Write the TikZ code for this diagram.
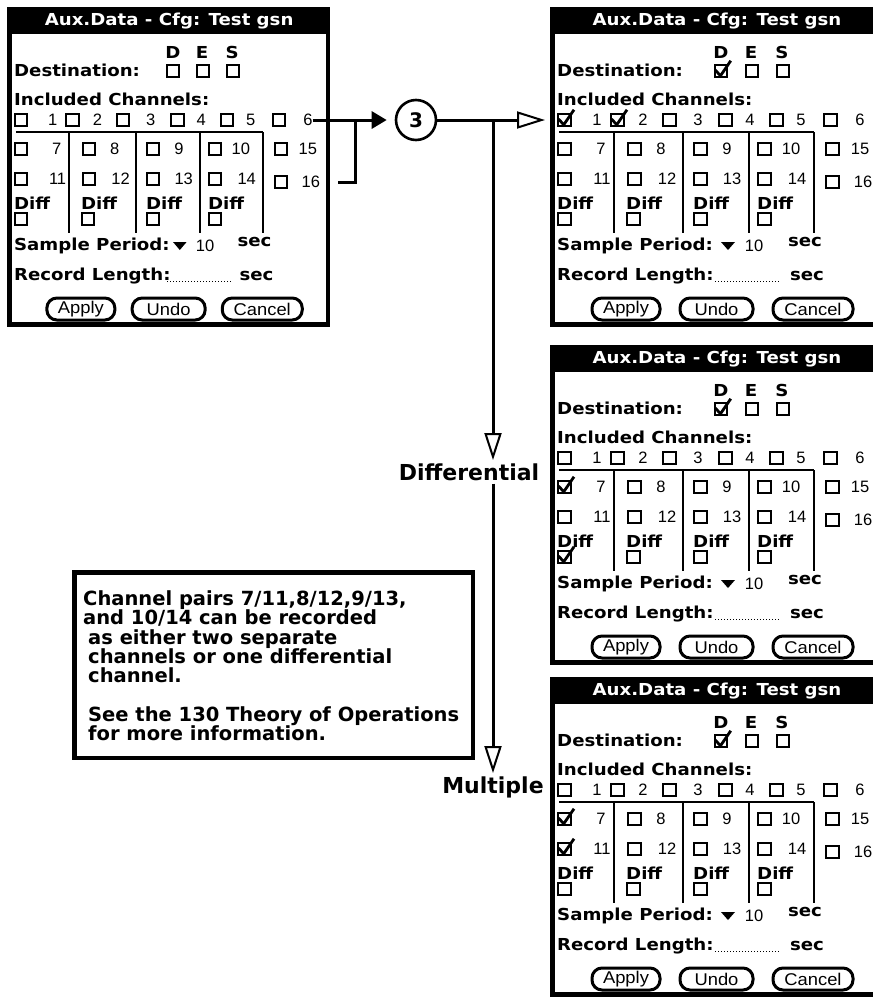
\documentclass[tikz,border=0pt]{standalone}
\usepackage{fontspec}
\usetikzlibrary{arrows.meta,calc}
\newfontfamily\pbfont{DejaVu Sans}[FakeStretch=1.1]
\newfontfamily\prfont{Liberation Sans}[FakeStretch=1.08]
\newfontfamily\pdfont{Liberation Sans}
\newfontfamily\lbfont{DejaVu Sans}
\tikzset{
  pbold/.style={font={\pbfont\bfseries\fontsize{16.5}{16.5}\selectfont}, inner sep=0pt},
  ptitle/.style={font={\pbfont\bfseries\fontsize{16.5}{16.5}\selectfont}, text=white, inner sep=0pt},
  pnum/.style={font={\pdfont\fontsize{16.5}{16.5}\selectfont}, inner sep=0pt},
  pbtn/.style={draw, line width=3pt, rounded corners=10pt, minimum height=22pt, inner sep=0pt, font={\prfont\fontsize{17}{17}\selectfont}},
  cbox/.style={draw, line width=2pt, minimum size=12.5pt, inner sep=0pt},
  pline/.style={line width=2.3pt},
  chkline/.style={line width=2.8pt},
  conn/.style={line width=3pt},
  lab/.style={font={\lbfont\bfseries\fontsize{22}{22}\selectfont}, inner sep=3pt},
  notebox/.style={draw, line width=4.5pt, inner sep=0pt},
  notetext/.style={font={\lbfont\bfseries\fontsize{19.5}{19.3}\selectfont}, align=left, inner sep=0pt},
  stepcircle/.style={circle, draw, line width=2.6pt, minimum size=40pt, inner sep=0pt, font={\lbfont\bfseries\fontsize{20}{20}\selectfont}},
  openarr/.style={-{Triangle[open, length=27pt, width=17pt, line width=2pt]}},
}
\newcommand\chk[1]{\draw[chkline] ($(#1.west)+(1.5,-1)$) -- ($(#1.south)+(-0.5,-2.5)$) -- ($(#1.north east)+(2.5,-3)$);}
\newcommand\PalmScreen[6]{%
\begin{scope}[shift={(#2,#3)}, xscale=#4]
  \fill (-5,0) rectangle (#5,27);
  \fill (-5,0) rectangle (0,320);
  \fill (-5,315) rectangle (#5,320);
  \node[ptitle] (#1title) at (162,14) {Aux.Data - Cfg: Test gsn};
  \node[pbold] (#1D) at (166,45) {D};
  \node[pbold] (#1E) at (196,45) {E};
  \node[pbold] (#1S) at (227,45) {S};
  \node[pbold, anchor=west] (#1dest) at (2,63) {Destination:};
  \node[cbox] (#1dD) at (166,64) {};
  \node[cbox] (#1dE) at (197,64) {};
  \node[cbox] (#1dS) at (228,64) {};
  \node[pbold, anchor=west] (#1incl) at (2,92) {Included Channels:};
  \foreach \n/\bx/\lx in {1/2/42, 2/55/88, 3/107/143, 4/163/195, 5/214/246, 6/268/305} {
    \node[cbox, anchor=west] (#1b\n) at (\bx,113) {};
    \node[pnum] (#1c\n) at (\lx,113) {\n};
  }
  \draw[pline] (4,125) -- (259,125);
  \foreach \dx in {59,128,194,259} {\draw[pline] (\dx,125) -- (\dx,226);}
  \foreach \n/\bx/\lx in {7/2/46, 8/72/106, 9/138/172, 10/202/236, 15/270/305} {
    \node[cbox, anchor=west] (#1b\n) at (\bx,142) {};
    \node[pnum] (#1c\n) at (\lx,142) {\n};
  }
  \foreach \n/\bx/\lx in {11/2/47, 12/72/112, 13/138/177, 14/202/242} {
    \node[cbox, anchor=west] (#1b\n) at (\bx,172) {};
    \node[pnum] (#1c\n) at (\lx,172) {\n};
  }
  \node[cbox, anchor=west] (#1b16) at (270,175) {};
  \node[pnum] (#1c16) at (308,175) {16};
  \foreach \i/\dx in {1/2, 2/71, 3/138, 4/202} {
    \node[pbold, anchor=west] (#1diff\i) at (\dx,196) {Diff};
    \node[cbox, anchor=west] (#1db\i) at (\dx,212) {};
  }
  \node[pbold, anchor=west] (#1samp) at (2,239) {Sample Period:};
  \fill (166,235) -- (180,235) -- (173,243) -- cycle;
  \node[pnum] (#1per) at (199,239) {10};
  \node[pbold] (#1secA) at (250,235) {sec};
  \node[pbold, anchor=west] (#1rec) at (2,269) {Record Length:};
  \draw[line width=1pt, dash pattern=on 1pt off 2pt] (160,274) -- (225,274);
  \node[pbold] (#1secB) at (252,269) {sec};
  \node[pbtn, minimum width=68pt] (#1apply) at (71,302) {Apply};
  \node[pbtn, minimum width=73pt] (#1undo) at (161.5,302) {Undo};
  \node[pbtn, minimum width=80pt] (#1cancel) at (258,302) {Cancel};
  \coordinate (#1in) at (-10,113);
  #6
\end{scope}}
\begin{document}
\begin{tikzpicture}[x=1pt,y=-1pt]
\useasboundingbox (0,0) rectangle (873,1002);
\PalmScreen{s1}{12}{7}{0.97}{327.8}{\fill (323.5,0) rectangle (327.8,320);}
\PalmScreen{s2}{555}{7}{1}{330}{\chk{s2dD}\chk{s2b1}\chk{s2b2}}
\PalmScreen{s3}{555}{345}{1}{330}{\chk{s3dD}\chk{s3b7}\chk{s3db1}}
\PalmScreen{s4}{555}{677}{1}{330}{\chk{s4dD}\chk{s4b7}\chk{s4b11}}
% step circle and connectors
\node[stepcircle] (c3) at (416,0 |- s1c6) {3};
\coordinate (j1) at (355,0 |- s1c6);
\coordinate (br16) at ($(s1c16.east)+(18,0)$);
\draw[conn, -{Triangle[length=15pt,width=17pt]}, shorten >=8pt] (s1c6.east) -- (c3.west);
\draw[conn] (br16) -| (j1);
\coordinate (j2) at (493,0 |- c3);
\draw[conn, -{Triangle[open,length=28pt,width=17pt,line width=2pt]}] (c3.east) -- (s2in);
\node[lab, anchor=base] (difflab) at (469,480) {Differential};
\node[lab, anchor=base] (multlab) at (493,793) {Multiple};
\draw[conn, openarr] (j2) -- (j2 |- difflab.north);
\draw[conn, openarr] (j2 |- difflab.south) -- (j2 |- multlab.north);
% note box
\node[notebox, minimum width=398.5pt, minimum height=185.5pt, anchor=north west] (note) at (72.25,570.25) {};
\node[notetext, anchor=north west] (notetxt) at (83,590.5) {Channel pairs 7/11,8/12,9/13,\\and 10/14 can be recorded\\\hspace*{5pt}as either two separate\\\hspace*{5pt}channels or one differential\\\hspace*{5pt}channel.\\[19.3pt]\hspace*{5pt}See the 130 Theory of Operations\\\hspace*{5pt}for more information.};
\end{tikzpicture}
\end{document}
